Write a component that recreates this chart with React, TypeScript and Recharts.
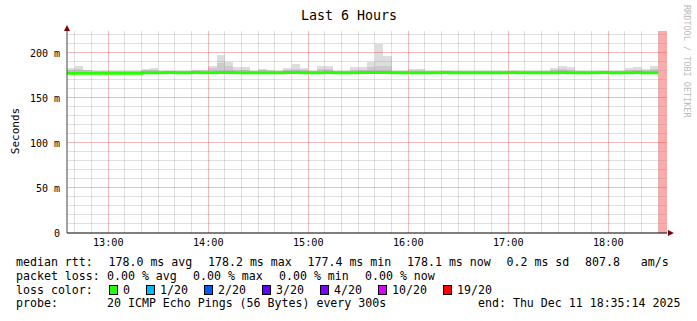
import React from "react";
import {
  ComposedChart,
  Area,
  Line,
  XAxis,
  YAxis,
  ReferenceLine,
  ReferenceArea,
  ReferenceDot,
} from "recharts";

// times are minutes since midnight; graph window 12:35:14 .. 18:35:14
const WINDOW_START = 755 + 14 / 60;
const WINDOW_END = WINDOW_START + 360;
const FIRST_STEP = 755; // 12:35, first 5 min RRD step
const STEP_MIN = 5;
const Y_MAX = 224.4;

// median rtt per 5 min step (ms)
const medianRtt = [
  177.4, 177.5, 177.4, 177.5, 177.4, 177.5, 177.6, 177.5, 177.4, 178.0,
  178.1, 178.1, 178.2, 178.1, 178.1, 178.2, 178.1, 178.1, 178.2, 178.2,
  178.1, 178.1, 178.0, 178.1, 178.1, 178.1, 178.2, 178.2, 178.1, 178.1,
  178.1, 178.2, 178.1, 178.1, 178.1, 178.2, 178.2, 178.2, 178.2, 178.1,
  178.1, 178.1, 178.1, 178.1, 178.1, 178.2, 178.1, 178.1, 178.1, 178.0,
  178.1, 178.1, 178.1, 178.2, 178.1, 178.1, 178.1, 178.1, 178.1, 178.2,
  178.1, 178.1, 178.1, 178.1, 178.2, 178.1, 178.1, 178.1, 178.2, 178.1,
  178.1,
];

// smoke: fastest ping, inner (dark) band top, slowest ping
const minPing = [
  176.9, 176.9, 176.9, 176.9, 176.9, 176.9, 177.0, 176.9, 176.9, 177.5,
  177.6, 177.6, 177.6, 177.6, 177.6, 177.6, 177.6, 177.6, 177.6, 177.6,
  177.6, 177.6, 177.5, 177.6, 177.6, 177.6, 177.6, 177.6, 177.6, 177.6,
  177.6, 177.6, 177.6, 177.6, 177.6, 177.6, 177.6, 177.6, 177.6, 177.6,
  177.6, 177.6, 177.6, 177.6, 177.6, 177.6, 177.6, 177.6, 177.6, 177.5,
  177.6, 177.6, 177.6, 177.6, 177.6, 177.6, 177.6, 177.6, 177.6, 177.6,
  177.6, 177.6, 177.6, 177.6, 177.6, 177.6, 177.6, 177.6, 177.6, 177.6,
  177.6,
];
const innerPing = [
  181.5, 182.0, 181.0, 179.5, 179.5, 179.5, 179.5, 179.5, 179.5, 181.0,
  181.5, 179.8, 179.8, 179.5, 179.5, 180.2, 180.2, 183.0, 189.0, 185.0,
  181.5, 181.5, 179.5, 181.0, 180.5, 179.5, 181.0, 182.5, 181.5, 179.5,
  182.0, 182.0, 179.5, 179.5, 181.5, 181.5, 184.0, 186.0, 185.0, 179.5,
  179.5, 180.5, 180.5, 179.5, 179.5, 179.5, 179.5, 179.5, 179.5, 179.5,
  179.5, 179.5, 179.5, 179.5, 179.5, 179.5, 179.5, 179.5, 181.5, 182.5,
  181.5, 179.5, 179.5, 179.5, 179.5, 179.5, 179.5, 181.0, 181.5, 180.5,
  182.5,
];
const maxPing = [
  183.7, 185.5, 181.5, 180.0, 180.0, 180.0, 179.8, 180.0, 180.0, 182.6,
  183.7, 180.4, 180.4, 180.0, 180.0, 181.0, 181.0, 186.0, 198.0, 190.0,
  184.5, 184.5, 180.0, 182.6, 181.5, 180.0, 183.0, 187.3, 183.7, 180.0,
  185.5, 185.5, 180.0, 180.0, 184.0, 184.0, 190.0, 210.0, 196.7, 180.0,
  180.0, 182.0, 182.0, 180.0, 180.0, 180.0, 180.0, 180.0, 180.0, 180.0,
  180.0, 180.0, 180.0, 180.0, 180.0, 180.0, 180.0, 180.0, 183.7, 186.0,
  184.0, 180.0, 180.0, 180.0, 180.0, 180.0, 180.0, 183.0, 184.0, 182.0,
  186.0,
];

const hourTicks = [780, 840, 900, 960, 1020, 1080];
const yTicks = [0, 50, 100, 150, 200];

const lossLabels = ["0", "1/20", "2/20", "3/20", "4/20", "10/20", "19/20"];
const lossColors = ["#26ff00", "#00b8ff", "#0059ff", "#5e00ff", "#7e00ff", "#dd00ff", "#ff0000"];

const rttItems = ["178.0 ms avg", "178.2 ms max", "177.4 ms min", "178.1 ms now", "0.2 ms sd", "807.8   am/s"];
const lossItems = ["0.00 % avg", "0.00 % max", "0.00 % min", "0.00 % now"];

const data = medianRtt.map((m, i) => ({
  t: FIRST_STEP + i * STEP_MIN,
  median: m,
  lo: minPing[i],
  mid: innerPing[i],
  hi: maxPing[i],
}));
// closing point so the last step is drawn up to its end
const UNKNOWN_FROM = FIRST_STEP + medianRtt.length * STEP_MIN;
data.push({ ...data[data.length - 1], t: UNKNOWN_FROM });

const minorX: number[] = [];
for (let t = 760; t <= 1110; t += 10) if (t % 60 !== 0) minorX.push(t);
const minorY: number[] = [];
for (let v = 10; v <= 220; v += 10) if (v % 50 !== 0) minorY.push(v);

const mono = "'DejaVu Sans Mono', monospace";
const MINOR = "rgba(143,143,143,0.28)";
const MAJOR = "rgba(230,70,70,0.38)";

function fmtHour(t: number) {
  return `${Math.round(t / 60)}:00`;
}

function Txt({ x, y, children, size = 11.6, color = "#000" }: any) {
  return (
    <div
      style={{
        position: "absolute",
        left: x,
        top: y,
        fontFamily: mono,
        fontSize: size,
        lineHeight: "14px",
        whiteSpace: "pre",
        color,
      }}
    >
      {children}
    </div>
  );
}

const rttX = [108.5, 208, 307.5, 407, 506.5, 585];
const lossX = [107, 193, 279, 365];
const boxX = [109, 146, 204, 262, 320, 378, 443];

export default function App() {
  return (
    <div style={{ position: "absolute", left: 0, top: 0, width: 697, height: 321, background: "#fff", overflow: "hidden" }}>
      <ComposedChart width={697} height={321} data={data} margin={{ top: 31, right: 30, bottom: 68, left: 17 }}>
        <XAxis
          dataKey="t"
          type="number"
          domain={[WINDOW_START, WINDOW_END]}
          allowDataOverflow
          ticks={hourTicks}
          tickFormatter={fmtHour}
          height={20}
          tickSize={0}
          tickMargin={6}
          tickLine={false}
          axisLine={{ stroke: "#000" }}
          tick={{ fontFamily: mono, fontSize: 10.2, fill: "#000" }}
        />
        <YAxis
          type="number"
          domain={[0, Y_MAX]}
          allowDataOverflow
          ticks={yTicks}
          tickFormatter={(v: number) => (v === 0 ? "0" : `${v} m`)}
          width={50}
          tickSize={0}
          tickMargin={7}
          tickLine={false}
          axisLine={{ stroke: "#444" }}
          tick={{ fontFamily: mono, fontSize: 10, fill: "#000" }}
        />
        <ReferenceArea x1={UNKNOWN_FROM} x2={WINDOW_END} y1={0} y2={Y_MAX} fill="#ffaaaa" fillOpacity={1} stroke="none" />
        <Area
          type="stepAfter"
          dataKey={(d: any) => [d.mid, d.hi]}
          fill="#dddddd"
          fillOpacity={1}
          stroke="none"
          shapeRendering="crispEdges"
          isAnimationActive={false}
        />
        <Area
          type="stepAfter"
          dataKey={(d: any) => [d.lo, d.mid]}
          fill="#cbcbcb"
          fillOpacity={1}
          stroke="none"
          shapeRendering="crispEdges"
          isAnimationActive={false}
        />
        {minorY.map((v) => (
          <ReferenceLine key={"my" + v} y={v} stroke={MINOR} shapeRendering="crispEdges" />
        ))}
        {minorX.map((t) => (
          <ReferenceLine key={"mx" + t} x={t} stroke={MINOR} shapeRendering="crispEdges" />
        ))}
        {yTicks.slice(1).map((v) => (
          <ReferenceLine key={"My" + v} y={v} stroke={MAJOR} shapeRendering="crispEdges" />
        ))}
        {hourTicks.map((t) => (
          <ReferenceLine key={"Mx" + t} x={t} stroke={MAJOR} shapeRendering="crispEdges" />
        ))}
        <Line
          type="stepAfter"
          dataKey="median"
          stroke="#26ff00"
          strokeWidth={3}
          dot={false}
          isAnimationActive={false}
        />
        <ReferenceDot
          x={WINDOW_START}
          y={227.8}
          ifOverflow="visible"
          shape={(p: any) => (
            <polygon points={`${p.cx - 3},${p.cy + 3} ${p.cx + 3},${p.cy + 3} ${p.cx},${p.cy - 3}`} fill="#7f0000" />
          )}
        />
        <ReferenceDot
          x={1117.6}
          y={0}
          ifOverflow="visible"
          shape={(p: any) => (
            <polygon points={`${p.cx - 3},${p.cy - 3} ${p.cx - 3},${p.cy + 3} ${p.cx + 3},${p.cy}`} fill="#7f0000" />
          )}
        />
      </ComposedChart>

      <div style={{ position: "absolute", left: 0, top: 8, width: 698, textAlign: "center", fontFamily: mono, fontSize: 13.3, lineHeight: "16px" }}>
        Last 6 Hours
      </div>
      <div
        style={{
          position: "absolute",
          left: 15,
          top: 131,
          transform: "translate(-50%, -50%) rotate(-90deg)",
          fontFamily: mono,
          fontSize: 11,
          whiteSpace: "pre",
        }}
      >
        Seconds
      </div>
      <div
        style={{
          position: "absolute",
          left: 681.5,
          top: 5,
          writingMode: "vertical-rl",
          fontFamily: mono,
          fontSize: 8.5,
          color: "#bbbbbb",
          whiteSpace: "pre",
        }}
      >
        RRDTOOL / TOBI OETIKER
      </div>

      <Txt x={16} y={255}>median rtt:</Txt>
      {rttItems.map((s, i) => (
        <Txt key={s} x={rttX[i]} y={255}>{s}</Txt>
      ))}
      <Txt x={16} y={269}>packet loss:</Txt>
      {lossItems.map((s, i) => (
        <Txt key={s} x={lossX[i]} y={269}>{s}</Txt>
      ))}
      <Txt x={16} y={283}>loss color:</Txt>
      {lossLabels.map((s, i) => (
        <React.Fragment key={s}>
          <div
            style={{
              position: "absolute",
              left: boxX[i],
              top: 285,
              width: 9,
              height: 10,
              boxSizing: "border-box",
              border: "1px solid #000",
              background: lossColors[i],
            }}
          />
          <Txt x={boxX[i] + 14} y={283}>{s}</Txt>
        </React.Fragment>
      ))}
      <Txt x={16} y={296}>probe:</Txt>
      <Txt x={107} y={296}>20 ICMP Echo Pings (56 Bytes) every 300s</Txt>
      <Txt x={478} y={296}>end: Thu Dec 11 18:35:14 2025</Txt>
    </div>
  );
}
